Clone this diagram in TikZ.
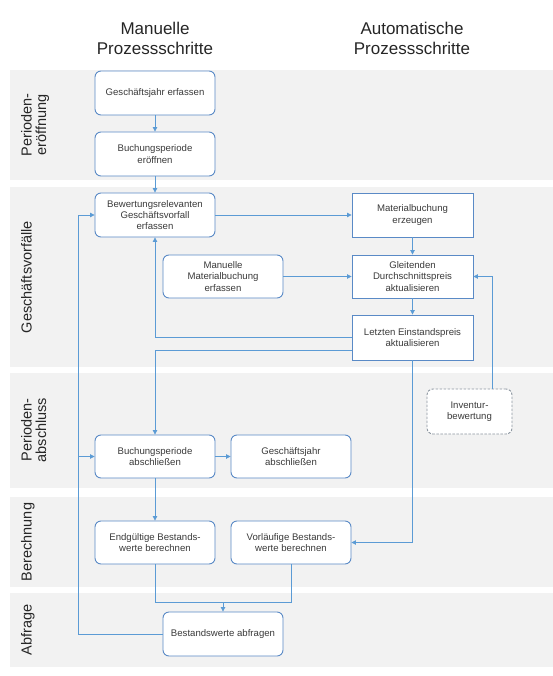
\documentclass[tikz,border=0pt]{standalone}
\usepackage{fontspec}
\setmainfont{Liberation Sans}
\usetikzlibrary{arrows.meta}
\definecolor{bandgray}{HTML}{F2F2F2}
\definecolor{boxblue}{HTML}{5A8AC6}
\definecolor{lineblue}{HTML}{5B9BD5}
\definecolor{txtgray}{HTML}{3A3A3A}
\definecolor{dashgray}{HTML}{8C96A0}
\tikzset{
  boxbase/.style={draw=boxblue, fill=white, line width=0.9pt, align=center,
    text=txtgray, font=\fontsize{9.6}{11.3}\selectfont, inner sep=1pt,
    minimum width=120pt, minimum height=44pt},
  rbox/.style={boxbase, rounded corners=6pt},
  sbox/.style={boxbase},
  dbox/.style={boxbase, draw=dashgray, dashed, dash pattern=on 2.5pt off 1.5pt, rounded corners=6pt},
  arr/.style={draw=lineblue, line width=0.8pt, -{Triangle[length=4.5pt,width=4.5pt]}},
  lin/.style={draw=lineblue, line width=0.8pt},
  lane/.style={rotate=90, anchor=north, inner sep=0pt, align=center, text=black!85,
    font=\fontsize{14.5}{14.5}\selectfont},
  head/.style={align=center, text=black!85, font=\fontsize{17}{20}\selectfont}
}
\begin{document}
\begin{tikzpicture}[x=1pt, y=-1pt]
\useasboundingbox (0,0) rectangle (553,676);
\fill[white] (0,0) rectangle (553,676);
% bands
\fill[bandgray] (10,70) rectangle (553,180);
\fill[bandgray] (10,187) rectangle (553,367);
\fill[bandgray] (10,373) rectangle (553,488);
\fill[bandgray] (10,497) rectangle (553,587);
\fill[bandgray] (10,593) rectangle (553,667);
% headers
\node[head] (h1) at (155,38) {Manuelle\\Prozessschritte};
\node[head] (h2) at (412,38) {Automatische\\Prozessschritte};
% lane labels
\node[lane] (l1) at (21,125) {Perioden-\\eröffnung};
\node[lane] (l2) at (21,277) {Geschäftsvorfälle};
\node[lane] (l3) at (21,430) {Perioden-\\abschluss};
\node[lane] (l4) at (21,542) {Berechnung};
\node[lane] (l5) at (21,630) {Abfrage};
% boxes
\node[rbox] (gje) at (155,93) {Geschäftsjahr erfassen};
\node[rbox] (bpe) at (155,154) {Buchungsperiode\\eröffnen};
\node[rbox] (bgv) at (155,215) {Bewertungsrelevanten\\Geschäftsvorfall\\erfassen};
\node[sbox, minimum width=121pt] (mbe) at (412.5,215) {Materialbuchung\\erzeugen};
\node[rbox, minimum height=43pt] (mme) at (223,276.5) {Manuelle\\Materialbuchung\\erfassen};
\node[sbox, minimum width=121pt, minimum height=43pt] (gdp) at (412.5,276.5) {Gleitenden\\Durchschnittspreis\\aktualisieren};
\node[sbox, minimum width=121pt, minimum height=45pt] (lep) at (412.5,337.5) {Letzten Einstandspreis\\aktualisieren};
\node[dbox, minimum width=85pt, minimum height=45pt] (inv) at (469.5,411.5) {Inventur-\\bewertung};
\node[rbox, minimum height=43pt] (bpa) at (155,456.5) {Buchungsperiode\\abschließen};
\node[rbox, minimum height=43pt] (gja) at (291,456.5) {Geschäftsjahr\\abschließen};
\node[rbox, minimum height=43pt] (ebw) at (155,542.5) {Endgültige Bestands-\\werte berechnen};
\node[rbox, minimum height=43pt] (vbw) at (291,542.5) {Vorläufige Bestands-\\werte berechnen};
\node[rbox] (bwa) at (223,634) {Bestandswerte abfragen};
% helper coordinates
\coordinate (lx) at (78,0);
\coordinate (mg) at (0,602);
% connectors
\draw[arr] (gje.south) -- (bpe.north);
\draw[arr] (bpe.south) -- (bgv.north);
\draw[arr] (bgv.east) -- (mbe.west);
\draw[arr] (mbe.south) -- (gdp.north);
\draw[arr] (mme.east) -- (gdp.west);
\draw[arr] (gdp.south) -- (lep.north);
\draw[arr] (lep.west) -| (bgv.south);
\draw[arr] ([yshift=-12.5pt]lep.west) -| (bpa.north);
\draw[arr] (lep.south) |- (vbw.east);
\draw[arr] ([xshift=22.5pt]inv.north) |- (gdp.east);
\draw[arr] (bwa.west) -- (bwa.west -| lx) |- (bgv.west);
\draw[arr] (bpa.west -| lx) -- (bpa.west);
\draw[arr] (bpa.east) -- (gja.west);
\draw[arr] (bpa.south) -- (ebw.north);
\draw[lin] (ebw.south) |- (mg -| vbw.south) -- (vbw.south);
\draw[arr] (bwa.north |- mg) -- (bwa.north);
\end{tikzpicture}
\end{document}
